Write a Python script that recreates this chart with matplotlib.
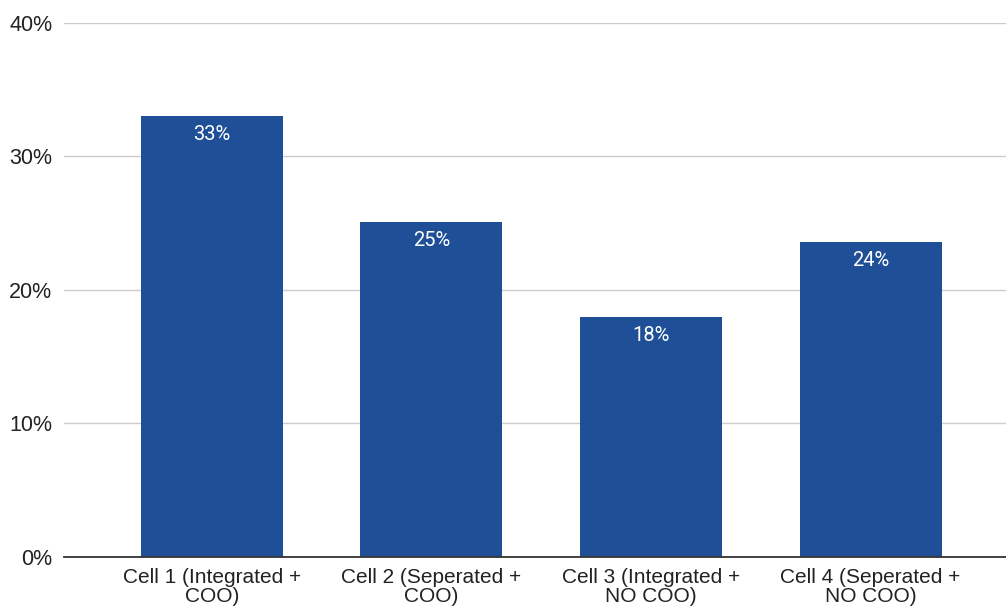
import matplotlib
matplotlib.use("Agg")
import matplotlib.pyplot as plt
from matplotlib.ticker import FuncFormatter

categories = ["Cell 1 (Integrated +\nCOO)", "Cell 2 (Seperated +\nCOO)",
              "Cell 3 (Integrated +\nNO COO)", "Cell 4 (Seperated +\nNO COO)"]
values = [33.0, 25.1, 18.0, 23.6]
yticks = [0, 10, 20, 30, 40]

bar_color = "#1f4f97"

fig = plt.figure(figsize=(10.06, 6.10), dpi=100)
ax = fig.add_axes([0.0636, 0.0869, 0.9364, 0.8754])

x = list(range(len(categories)))
bars = ax.bar(x, values, width=0.647, color=bar_color, zorder=3)

for xi, v in zip(x, values):
    ax.annotate(f"{round(v):d}%", xy=(xi, v), xytext=(0, -6.5), textcoords="offset points",
                ha="center", va="top", color="white", fontsize=14.5,
                family="Roboto", fontweight="normal", zorder=4)

ax.set_ylim(0, 40)
ax.set_xlim(-0.674, 3.617)
ax.set_yticks(yticks)
ax.yaxis.set_major_formatter(FuncFormatter(lambda v, p: f"{int(v)}%"))
ax.set_xticks(x)
ax.set_xticklabels(categories, linespacing=0.98)

for s in ["top", "right", "left"]:
    ax.spines[s].set_visible(False)
ax.spines["bottom"].set_color("#333333")
ax.spines["bottom"].set_linewidth(1.3)
ax.spines["bottom"].set_zorder(5)

ax.grid(axis="y", color="#cccccc", linewidth=1.0, zorder=0)
ax.tick_params(axis="y", length=0, pad=8.5, labelsize=15.5, labelcolor="#222222")
ax.tick_params(axis="x", length=0, pad=8, labelsize=15, labelcolor="#222222")
for lbl in ax.get_xticklabels() + ax.get_yticklabels():
    lbl.set_family("Liberation Sans")

fig.savefig("out.png", dpi=100)
